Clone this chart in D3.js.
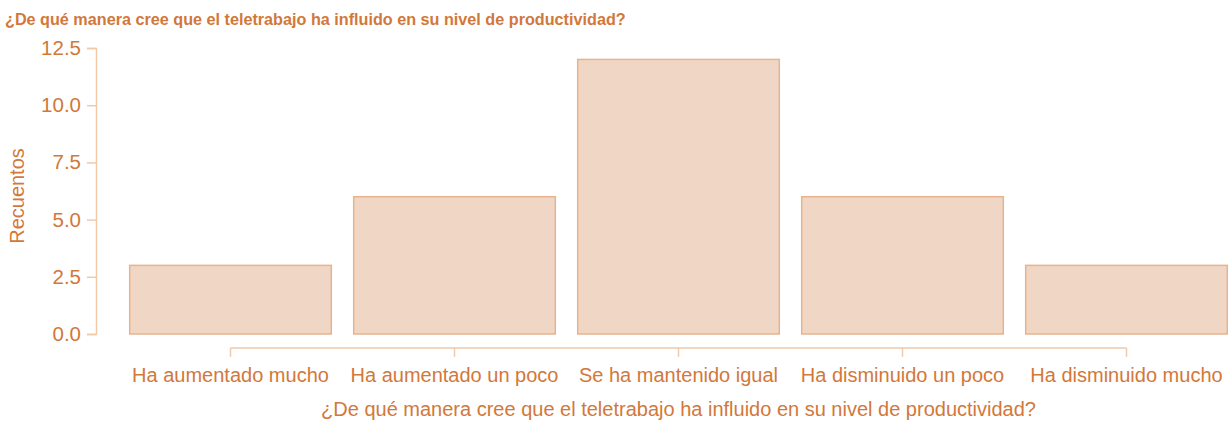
<!DOCTYPE html>
<html><head><meta charset="utf-8">
<script src="https://cdn.jsdelivr.net/npm/d3@7"></script>
<style>body{margin:0;background:#fff}svg{display:block}text{font-family:"Liberation Sans",Arial,sans-serif}</style>
</head><body>
<svg id="c" width="1228" height="422"></svg>
<script>
const categories = ["Ha aumentado mucho","Ha aumentado un poco","Se ha mantenido igual","Ha disminuido un poco","Ha disminuido mucho"];
const counts = [3,6,12,6,3];
const yTicks = [0,2.5,5,7.5,10,12.5];
const title = "¿De qué manera cree que el teletrabajo ha influido en su nivel de productividad?";
const yLabel = "Recuentos";

const textCol = "#d2783a", axisCol = "#f0c9a9", fill = "#f0d7c5", stroke = "#e8b38c";
const svg = d3.select("#c");
const x = d3.scaleBand().domain(categories).range([118.5,1238.5]).paddingInner(0.1).paddingOuter(0.05);
const y = d3.scaleLinear().domain([0,12.5]).range([334,48]);

svg.append("text").attr("x",5).attr("y",25).attr("fill",textCol).attr("font-weight","bold").attr("font-size",16.2).text(title);

// bars
svg.selectAll("rect.bar").data(counts).join("rect").attr("class","bar")
  .attr("x",(d,i)=>x(categories[i])).attr("width",x.bandwidth())
  .attr("y",d=>y(d)).attr("height",d=>y(0)-y(d))
  .attr("fill",fill).attr("stroke",stroke).attr("stroke-width",1.5);

// y axis
const ya = svg.append("g").attr("transform","translate(96,0)")
  .call(d3.axisLeft(y).tickValues(yTicks).tickFormat(d3.format(".1f")).tickSizeOuter(0).tickSize(9).tickPadding(6));
ya.select(".domain").attr("stroke",axisCol).attr("stroke-width",1.5);
ya.selectAll(".tick line").attr("stroke",axisCol).attr("stroke-width",1.5);
ya.selectAll(".tick text").attr("fill",textCol).attr("font-size",20.5).attr("font-family","Liberation Sans, Arial, sans-serif");

// x axis
const xa = svg.append("g").attr("transform","translate(0,348)");
const centers = categories.map(c=>x(c)+x.bandwidth()/2);
xa.append("line").attr("x1",centers[0]).attr("x2",centers[centers.length-1]).attr("y1",0).attr("y2",0).attr("stroke",axisCol).attr("stroke-width",1.5);
xa.selectAll("line.t").data(categories).join("line").attr("class","t")
  .attr("x1",c=>x(c)+x.bandwidth()/2).attr("x2",c=>x(c)+x.bandwidth()/2).attr("y1",0).attr("y2",9).attr("stroke",axisCol).attr("stroke-width",1.5);
xa.selectAll("text").data(categories).join("text")
  .attr("x",c=>x(c)+x.bandwidth()/2).attr("y",34).attr("text-anchor","middle").attr("fill",textCol).attr("font-size",20).text(c=>c);

svg.append("text").attr("x",(centers[0]+centers[4])/2).attr("y",416).attr("text-anchor","middle").attr("fill",textCol).attr("font-size",20).text(title);
svg.append("text").attr("transform","translate(24,196) rotate(-90)").attr("text-anchor","middle").attr("fill",textCol).attr("font-size",20).text(yLabel);
</script>
</body></html>
